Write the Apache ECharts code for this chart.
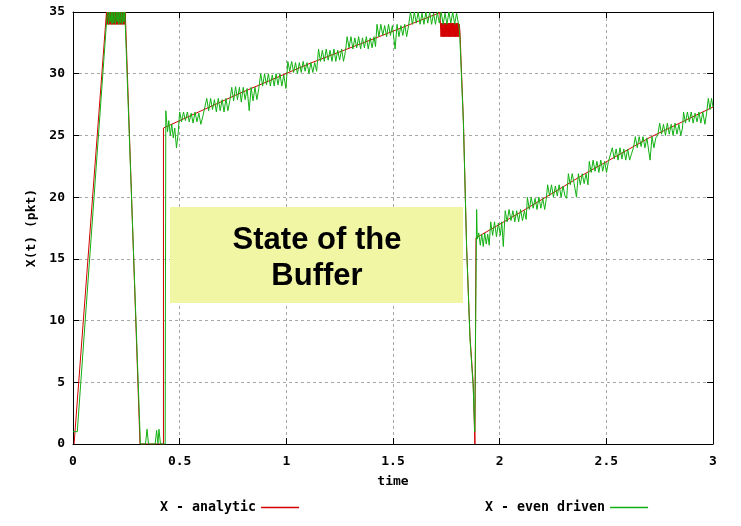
<!DOCTYPE html>
<html>
<head>
<meta charset="utf-8">
<script src="https://cdn.jsdelivr.net/npm/echarts@6/dist/echarts.min.js"></script>
<style>html,body{margin:0;padding:0;background:#fff;}#chart{width:741px;height:526px;}</style>
</head>
<body>
<div id="chart"></div>
<script>
// ---- data (time, X(t) in pkt) ----
var seriesNames = ['X - analytic', 'X - even driven'];

var analytic = [
  [0.005,0],[0.157,35],
  [0.159,34],[0.161,35],[0.163,34],[0.165,35],[0.167,34],[0.169,35],[0.171,34],[0.173,35],
  [0.175,34],[0.177,35],[0.179,34],[0.181,35],[0.183,34],[0.185,35],[0.187,34],[0.189,35],
  [0.191,34],[0.193,35],[0.195,34],[0.197,35],[0.199,34],[0.201,35],[0.203,34],[0.205,35],
  [0.207,34],[0.209,35],[0.211,34],[0.213,35],[0.215,34],[0.217,35],[0.219,34],[0.221,35],
  [0.223,34],[0.225,35],[0.227,34],[0.229,35],[0.231,34],[0.233,35],[0.235,34],[0.237,35],
  [0.239,34],[0.241,35],[0.243,34],[0.245,35],[0.248,35],
  [0.314,0],[0.424,0],[0.424,25.6],[0.767,28.3],[1.111,30.84],[1.42,32.9],[1.72,34.95],
  [1.725,33.0],[1.727,34.1],[1.729,33.0],[1.731,34.1],[1.733,33.0],[1.735,34.1],[1.737,33.0],
  [1.739,34.1],[1.741,33.0],[1.743,34.1],[1.745,33.0],[1.747,34.1],[1.749,33.0],[1.751,34.1],
  [1.753,33.0],[1.755,34.1],[1.757,33.0],[1.759,34.1],[1.761,33.0],[1.763,34.1],[1.765,33.0],
  [1.767,34.1],[1.769,33.0],[1.771,34.1],[1.773,33.0],[1.775,34.1],[1.777,33.0],[1.779,34.1],
  [1.781,33.0],[1.783,34.1],[1.785,33.0],[1.787,34.1],[1.789,33.0],[1.791,34.1],[1.793,33.0],
  [1.795,34.1],[1.797,33.0],[1.799,34.1],[1.801,33.0],[1.803,34.1],[1.805,33.0],[1.807,34.1],
  [1.809,33.0],[1.811,34.0],[1.814,33.3],[1.83,26.2],[1.845,16.0],[1.861,8.7],[1.876,4.9],[1.884,0],
  [1.888,0],[1.889,16.7],[2.1,18.8],[2.4,21.9],[2.7,24.8],[3.0,27.3]
];

var evenDriven = [
  [0,1],[0.02,1],[0.159,34.6],
  [0.163,35],[0.167,34],[0.171,35],[0.175,34.2],[0.179,35],[0.183,34],[0.187,35],[0.191,34.1],
  [0.195,35],[0.199,34],[0.203,35],[0.207,34.2],[0.211,35],[0.215,34],[0.219,35],[0.223,34.1],
  [0.227,35],[0.231,34],[0.235,35],[0.239,34.2],[0.243,35],[0.25,35],
  [0.316,0],[0.34,0],[0.347,1.2],[0.354,0],[0.385,0],[0.392,1.1],[0.398,0],[0.403,1.2],[0.41,0],
  [0.432,0],[0.435,27.0],[0.443,25.3],[0.449,26.2],[0.456,25.0],[0.463,25.9],[0.47,24.8],
  [0.477,25.6],[0.485,24.0],[0.492,25.0],[0.5,26.9],
  [0.509,26.1],[0.518,26.9],[0.527,26.2],[0.536,26.9],[0.545,26.1],[0.554,26.8],[0.563,26.0],
  [0.572,26.9],[0.581,26.1],[0.59,26.8],[0.599,25.9],[0.608,26.5],[0.617,26.4],[0.627,28.0],
  [0.636,27.0],[0.645,28.0],[0.654,27.1],[0.663,27.9],[0.672,26.9],[0.681,28.0],[0.69,27.0],
  [0.699,27.9],[0.708,26.9],[0.717,28.0],[0.726,27.0],[0.735,27.8],
  [0.744,28.9],[0.753,27.8],[0.762,28.95],[0.771,27.9],[0.78,28.9],[0.789,27.7],[0.798,28.9],
  [0.807,27.9],[0.816,28.8],[0.826,27.0],[0.835,28.9],[0.844,27.8],[0.853,28.9],[0.862,27.9],[0.871,28.8],
  [0.88,30.0],[0.889,29.0],[0.898,30.0],[0.907,29.1],[0.916,30.0],[0.925,29.0],[0.934,29.9],
  [0.943,29.0],[0.952,30.0],[0.961,29.1],[0.97,30.0],[0.979,29.0],[0.988,29.9],[0.998,28.8],
  [1.007,31.0],[1.016,30.2],[1.025,31.0],[1.034,30.1],[1.043,30.9],[1.052,30.0],[1.061,30.9],
  [1.07,30.1],[1.079,31.0],[1.088,30.2],[1.097,30.9],[1.106,30.0],[1.115,30.9],[1.124,30.1],
  [1.133,30.9],[1.142,30.2],
  [1.151,32.0],[1.16,31.0],[1.169,31.9],[1.178,31.0],[1.187,32.0],[1.196,31.1],[1.205,31.9],
  [1.214,31.0],[1.223,32.0],[1.232,31.0],[1.241,31.9],[1.25,31.1],[1.259,32.0],[1.268,31.0],[1.277,31.8],
  [1.285,33.0],[1.294,32.1],[1.303,33.0],[1.312,32.0],[1.321,32.9],[1.33,32.1],[1.339,33.0],
  [1.348,32.0],[1.357,32.9],[1.366,32.1],[1.375,33.0],[1.384,32.0],[1.393,32.9],[1.402,32.1],
  [1.411,33.0],[1.418,32.2],
  [1.425,34.0],[1.434,33.0],[1.443,34.0],[1.452,33.1],[1.461,33.9],[1.47,33.0],[1.479,34.0],
  [1.488,33.1],[1.497,33.9],[1.51,32.0],[1.519,34.0],[1.528,33.0],[1.537,33.9],[1.546,33.1],
  [1.555,34.0],[1.564,33.0],[1.573,33.9],
  [1.582,35.0],[1.591,34.0],[1.6,35.0],[1.609,34.1],[1.618,35.0],[1.627,34.0],[1.636,34.9],
  [1.645,34.0],[1.654,35.0],[1.663,34.1],[1.672,35.0],[1.681,34.0],[1.69,34.9],[1.699,34.0],
  [1.708,35.0],[1.717,34.1],[1.726,35.0],[1.735,34.0],[1.744,34.9],[1.753,34.0],[1.762,35.0],
  [1.771,34.1],[1.78,35.0],[1.789,34.0],[1.798,34.9],[1.807,34.0],
  [1.812,33.5],[1.83,26.0],[1.845,16.0],[1.861,8.5],[1.876,4.6],[1.883,1.0],[1.891,1.0],
  [1.892,19.0],[1.895,16.6],
  [1.902,17.1],[1.909,16.1],[1.916,17.0],[1.923,16.0],[1.93,17.1],[1.937,16.2],[1.944,17.0],[1.951,16.1],
  [1.958,18.0],[1.967,16.9],[1.976,18.0],[1.985,16.8],[1.994,17.9],[2.003,16.9],[2.01,18.0],[2.017,16.0],
  [2.026,18.9],[2.035,18.0],[2.044,19.0],[2.053,18.1],[2.062,18.9],[2.071,18.0],[2.08,18.9],
  [2.089,18.0],[2.098,19.0],[2.107,18.1],[2.116,18.9],[2.124,18.2],
  [2.13,20.0],[2.139,19.0],[2.148,20.0],[2.157,19.1],[2.166,19.9],[2.175,19.0],[2.184,20.0],
  [2.193,19.1],[2.202,19.9],[2.211,19.0],[2.218,19.8],
  [2.225,21.0],[2.234,20.1],[2.243,21.0],[2.252,20.0],[2.261,20.9],[2.27,20.1],[2.279,21.0],
  [2.288,20.0],[2.297,20.9],[2.306,20.1],[2.314,19.9],
  [2.322,21.9],[2.331,21.0],[2.34,21.9],[2.349,21.1],[2.36,20.0],[2.369,21.9],[2.378,21.0],
  [2.387,21.9],[2.396,21.1],[2.405,21.9],[2.414,21.0],
  [2.42,22.9],[2.429,22.0],[2.438,23.0],[2.447,22.1],[2.456,22.9],[2.465,22.0],[2.474,23.0],
  [2.483,22.1],[2.492,22.9],[2.501,22.0],[2.51,22.9],
  [2.519,23.0],[2.528,24.0],[2.537,23.1],[2.546,23.9],[2.555,23.0],[2.564,24.0],[2.573,23.1],
  [2.582,23.9],[2.591,23.0],[2.6,23.9],[2.609,23.0],[2.618,23.5],
  [2.627,24.0],[2.636,24.9],[2.645,24.0],[2.654,24.9],[2.663,24.1],[2.672,24.9],[2.681,24.0],
  [2.69,24.8],[2.705,23.0],[2.714,24.9],[2.723,24.0],[2.732,24.8],
  [2.741,25.0],[2.75,26.0],[2.759,25.1],[2.768,25.9],[2.777,25.0],[2.786,26.0],[2.795,25.1],
  [2.804,25.9],[2.813,25.0],[2.822,26.0],[2.831,25.1],[2.84,25.9],[2.849,25.0],[2.857,25.6],
  [2.862,26.9],[2.871,26.0],[2.88,26.9],[2.889,26.1],[2.898,26.9],[2.907,26.0],[2.916,26.8],
  [2.925,26.1],[2.934,26.9],[2.943,26.0],[2.952,26.9],[2.962,25.9],[2.97,26.8],
  [2.978,28.0],[2.986,27.1],[2.993,28.0],[3.0,27.3]
];

var xRange = [0, 3, 0.5];
var yRange = [0, 35, 5];
var annotationLines = ['State of the', 'Buffer'];

// ---- chart ----
var MONO = '"DejaVu Sans Mono", monospace';
var labelStyle = {fontFamily: MONO, fontWeight: 'bold', fontSize: 13, color: '#000'};
var legendText = {fontFamily: MONO, fontWeight: 'bold', fontSize: 13.3, color: '#000'};
var gridLine = {show: true, lineStyle: {color: '#a8a8a8', width: 1, type: [3, 3]}};
var frame = {show: true, onZero: false, lineStyle: {color: '#000', width: 1}};
var ticks = {show: true, inside: true, length: 6, lineStyle: {color: '#000', width: 1}};

var chart = echarts.init(document.getElementById('chart'), null, {renderer: 'canvas'});
chart.setOption({
  animation: false,
  backgroundColor: '#fff',
  grid: {left: 73, right: 28, top: 12, bottom: 82, containLabel: false},
  xAxis: [
    {type: 'value', min: xRange[0], max: xRange[1], interval: xRange[2], position: 'bottom',
     axisLine: frame, axisTick: ticks, splitLine: gridLine,
     axisLabel: Object.assign({margin: 11}, labelStyle),
     name: 'time', nameLocation: 'middle', nameGap: 31, nameTextStyle: labelStyle},
    {type: 'value', min: xRange[0], max: xRange[1], interval: xRange[2], position: 'top',
     axisLine: frame, axisTick: ticks, splitLine: {show: false}, axisLabel: {show: false}}
  ],
  yAxis: [
    {type: 'value', min: yRange[0], max: yRange[1], interval: yRange[2], position: 'left',
     axisLine: frame, axisTick: ticks, splitLine: gridLine,
     axisLabel: Object.assign({margin: 8}, labelStyle),
     name: 'X(t) (pkt)', nameLocation: 'middle', nameGap: 32, nameRotate: 90, nameTextStyle: labelStyle},
    {type: 'value', min: yRange[0], max: yRange[1], interval: yRange[2], position: 'right',
     axisLine: frame, axisTick: ticks, splitLine: {show: false}, axisLabel: {show: false}}
  ],
  legend: [
    {data: [seriesNames[0]], left: 160, top: 501, padding: 0, align: 'right', icon: 'rect',
     itemWidth: 38, itemHeight: 1.5, textStyle: legendText, selectedMode: false},
    {data: [seriesNames[1]], left: 485, top: 501, padding: 0, align: 'right', icon: 'rect',
     itemWidth: 38, itemHeight: 1.5, textStyle: legendText, selectedMode: false}
  ],
  series: [
    {name: seriesNames[0], type: 'line', data: analytic, showSymbol: false, symbol: 'none',
     xAxisIndex: 0, yAxisIndex: 0,
     color: '#d40000', lineStyle: {width: 1, color: '#d40000'}, z: 2},
    {name: seriesNames[1], type: 'line', data: evenDriven, showSymbol: false, symbol: 'none',
     xAxisIndex: 0, yAxisIndex: 0,
     color: '#12b012', lineStyle: {width: 1, color: '#12b012'}, z: 3}
  ],
  graphic: [
    {type: 'rect', z: 100, shape: {x: 170, y: 207, width: 293, height: 96},
     style: {fill: '#f1f6a4'}},
    {type: 'text', z: 101, x: 317, y: 240,
     style: {text: annotationLines[0], fill: '#000', font: 'bold 31px "Liberation Sans", Arial, sans-serif',
             align: 'center', verticalAlign: 'middle'}},
    {type: 'text', z: 101, x: 317, y: 276,
     style: {text: annotationLines[1], fill: '#000', font: 'bold 31px "Liberation Sans", Arial, sans-serif',
             align: 'center', verticalAlign: 'middle'}}
  ]
});
</script>
</body>
</html>
